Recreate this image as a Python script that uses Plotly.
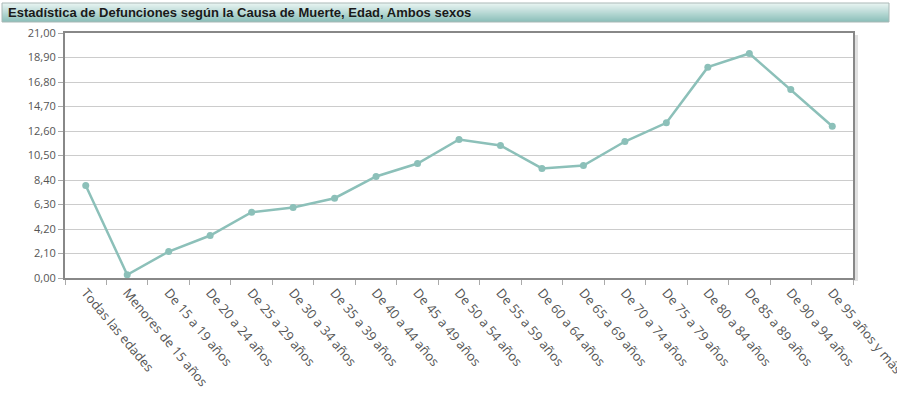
import plotly.graph_objects as go

categories = ["Todas las edades", "Menores de 15 años", "De 15 a 19 años", "De 20 a 24 años",
              "De 25 a 29 años", "De 30 a 34 años", "De 35 a 39 años", "De 40 a 44 años",
              "De 45 a 49 años", "De 50 a 54 años", "De 55 a 59 años", "De 60 a 64 años",
              "De 65 a 69 años", "De 70 a 74 años", "De 75 a 79 años", "De 80 a 84 años",
              "De 85 a 89 años", "De 90 a 94 años", "De 95 años y más"]
values = [7.93, 0.28, 2.27, 3.64, 5.64, 6.04, 6.84, 8.70, 9.81, 11.87, 11.36, 9.39,
          9.64, 11.70, 13.30, 18.07, 19.24, 16.16, 13.01]
y_ticks = [0, 2.1, 4.2, 6.3, 8.4, 10.5, 12.6, 14.7, 16.8, 18.9, 21.0]
title_text = "Estadística de Defunciones según la Causa de Muerte, Edad, Ambos sexos"

W, H = 897, 411
ML, MR, MT, MB = 65, 44, 33, 133
PW, PH = W - ML - MR, H - MT - MB


def px_x(x):
    return (x - ML) / PW


def px_y(y):
    return 1 + (MT - y) / PH


fig = go.Figure()
fig.add_trace(go.Scatter(
    x=categories, y=values, mode="lines+markers",
    line=dict(color="#8cc0b9", width=2.5),
    marker=dict(color="#8cc0b9", size=7),
    hoverinfo="x+y", showlegend=False, cliponaxis=False,
))

# title bar gradient (stacked bands)
shapes = []
top_px, bot_px = 3, 22
x0p, x1p = 2, 889
n = 19
c_top = (232, 244, 242)
c_bot = (140, 192, 186)
for i in range(n):
    t = i / (n - 1)
    c = tuple(int(c_top[k] + (c_bot[k] - c_top[k]) * t) for k in range(3))
    y0 = top_px + (bot_px - top_px) * i / n
    y1 = top_px + (bot_px - top_px) * (i + 1) / n
    shapes.append(dict(type="rect", xref="paper", yref="paper",
                       x0=px_x(x0p), x1=px_x(x1p), y0=px_y(y1), y1=px_y(y0),
                       fillcolor="rgb(%d,%d,%d)" % c, line=dict(width=0), layer="above"))
shapes.append(dict(type="rect", xref="paper", yref="paper",
                   x0=px_x(x0p), x1=px_x(x1p), y0=px_y(bot_px), y1=px_y(top_px),
                   fillcolor="rgba(0,0,0,0)", line=dict(width=1, color="#a9b8b6"), layer="above"))
# right-side shadow of plot frame
shapes.append(dict(type="rect", xref="paper", yref="paper", x0=px_x(854), x1=px_x(858),
                   y0=px_y(281), y1=px_y(35),
                   fillcolor="rgba(0,0,0,0.12)", line=dict(width=0), layer="below"))

fig.update_layout(
    width=W, height=H,
    margin=dict(l=ML, r=MR, t=MT, b=MB, autoexpand=False),
    paper_bgcolor="white", plot_bgcolor="white",
    separators=",.",
    shapes=shapes,
    annotations=[dict(text="<b>" + title_text + "</b>", xref="paper", yref="paper",
                      x=px_x(6), y=px_y(12.5),
                      xanchor="left", yanchor="middle", showarrow=False,
                      font=dict(family="Liberation Sans, Arial", size=13, color="#1a1a1a"))],
    xaxis=dict(
        type="category", tickangle=50, tickson="boundaries", automargin=False,
        ticks="outside", ticklen=5, tickcolor="#aaaaaa",
        showline=True, linecolor="#888888", linewidth=2, mirror=True,
        showgrid=False,
        tickfont=dict(family="Open Sans", size=13, color="#555555"),
        range=[-0.5, 18.5],
    ),
    yaxis=dict(
        range=[0, 21], tickvals=y_ticks, tickformat=".2f", automargin=False,
        ticks="outside", ticklen=5, tickcolor="#aaaaaa",
        showline=True, linecolor="#888888", linewidth=2, mirror=True,
        showgrid=True, gridcolor="#cccccc", gridwidth=1, zeroline=False,
        tickfont=dict(family="Open Sans", size=11, color="#555555"),
    ),
)

fig.write_html("out.html")
